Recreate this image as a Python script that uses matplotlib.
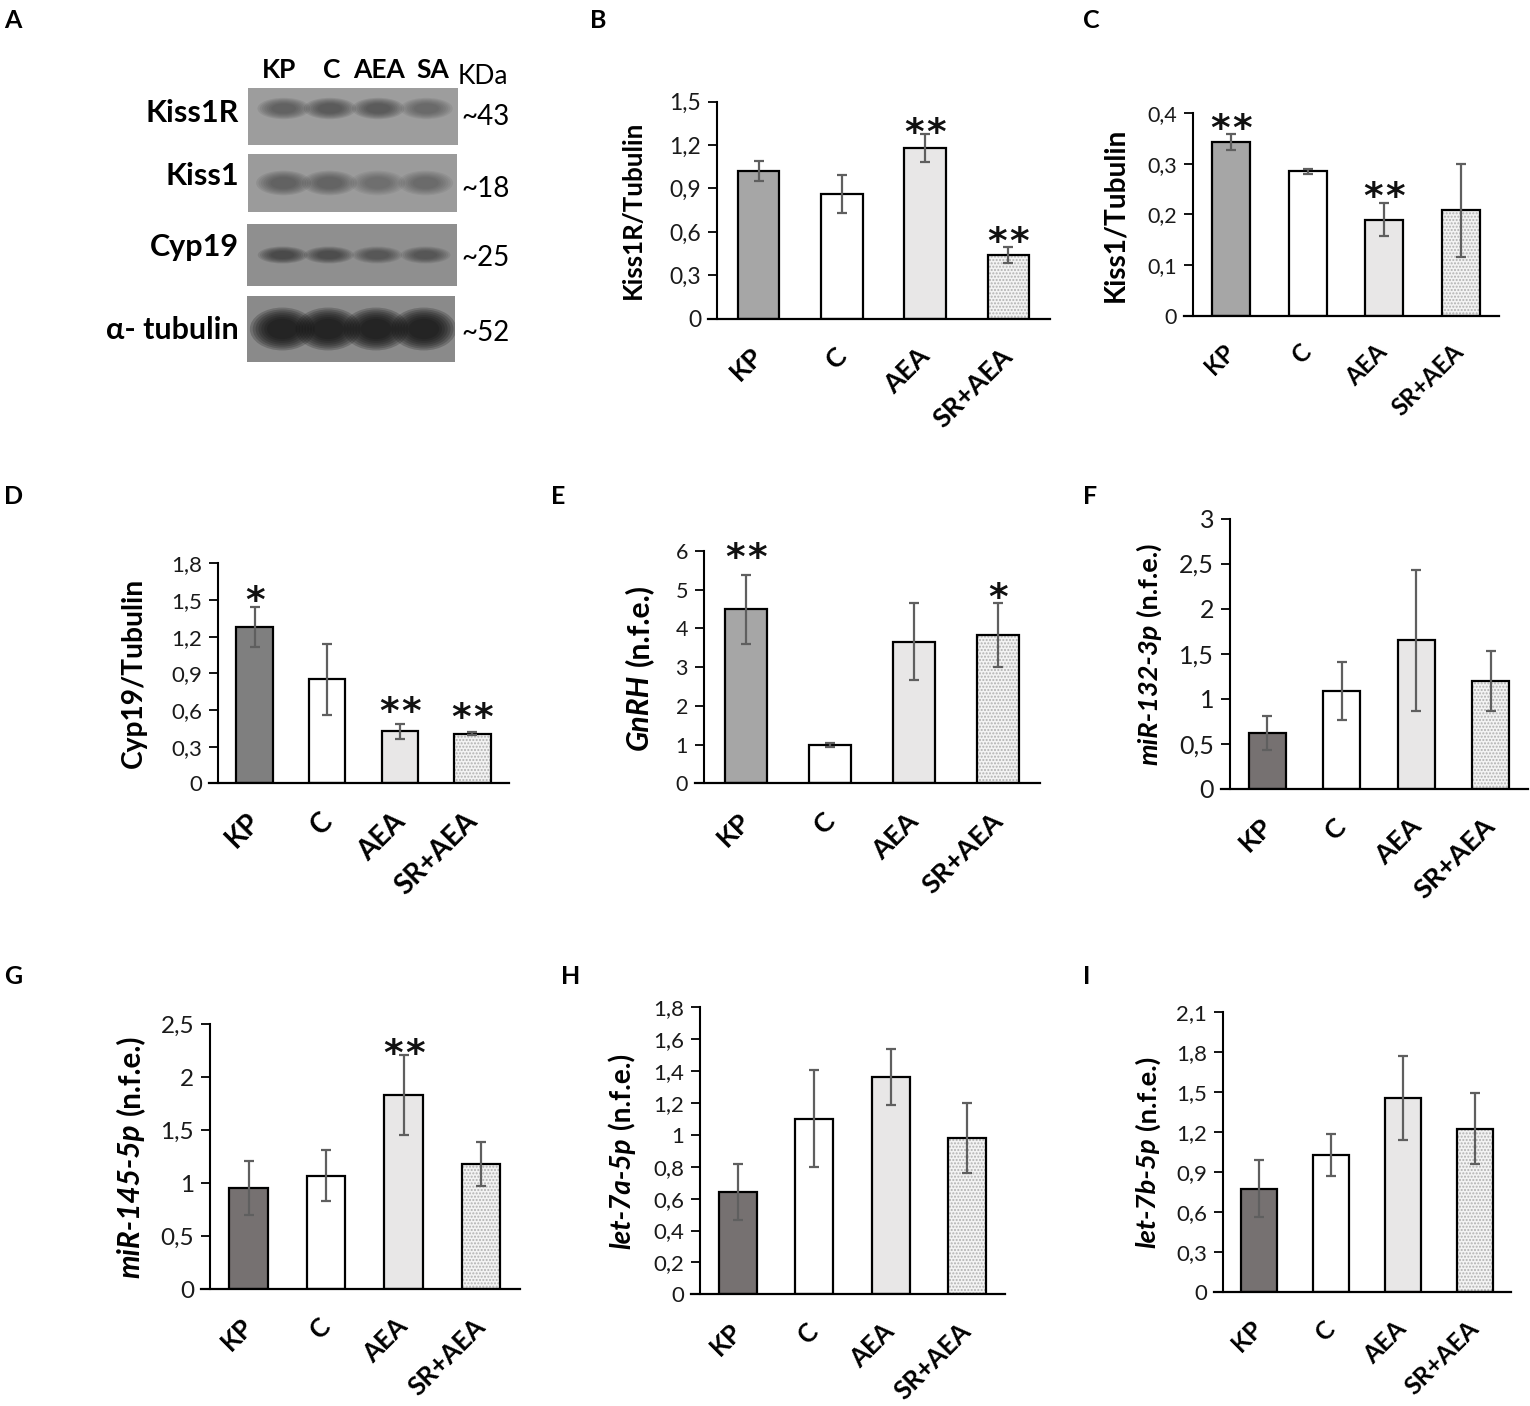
import matplotlib
matplotlib.use('Agg')
import matplotlib.pyplot as plt
from matplotlib.patches import Ellipse
from matplotlib.lines import Line2D
from matplotlib.transforms import IdentityTransform
import numpy as np

plt.rcParams['font.family'] = ['Lato', 'DejaVu Sans']

W, H = 1530, 1406
fig = plt.figure(figsize=(W / 100, H / 100), dpi=100)

# ---------------- data ----------------
groups = ['KP', 'C', 'AEA', 'SR+AEA']

kiss1r_mean = [1.02, 0.86, 1.18, 0.44]
kiss1r_err = [0.07, 0.13, 0.095, 0.055]
kiss1r_star = ['', '', '**', '**']
kiss1r_star_y = [0, 0, 1.36, 0.60]
kiss1r_ticks = [0, 0.3, 0.6, 0.9, 1.2, 1.5]
kiss1r_ticklabels = ['0', '0,3', '0,6', '0,9', '1,2', '1,5']

kiss1_mean = [0.344, 0.285, 0.19, 0.208]
kiss1_err = [0.016, 0.005, 0.032, 0.092]
kiss1_star = ['**', '', '**', '']
kiss1_star_y = [0.389, 0, 0.256, 0]
kiss1_ticks = [0, 0.1, 0.2, 0.3, 0.4]
kiss1_ticklabels = ['0', '0,1', '0,2', '0,3', '0,4']

cyp19_mean = [1.28, 0.85, 0.425, 0.406]
cyp19_err = [0.164, 0.29, 0.064, 0.01]
cyp19_star = ['*', '', '**', '**']
cyp19_star_y = [1.58, 0, 0.666, 0.624]
cyp19_ticks = [0, 0.3, 0.6, 0.9, 1.2, 1.5, 1.8]
cyp19_ticklabels = ['0', '0,3', '0,6', '0,9', '1,2', '1,5', '1,8']

gnrh_mean = [4.49, 0.99, 3.66, 3.83]
gnrh_err = [0.89, 0.05, 1.0, 0.83]
gnrh_star = ['**', '', '', '*']
gnrh_star_y = [6.1, 0, 0, 5.07]
gnrh_ticks = [0, 1, 2, 3, 4, 5, 6]
gnrh_ticklabels = ['0', '1', '2', '3', '4', '5', '6']

mir132_mean = [0.618, 1.084, 1.646, 1.198]
mir132_err = [0.185, 0.32, 0.785, 0.336]
mir132_ticks = [0, 0.5, 1, 1.5, 2, 2.5, 3]
mir132_ticklabels = ['0', '0,5', '1', '1,5', '2', '2,5', '3']

mir145_mean = [0.955, 1.068, 1.831, 1.181]
mir145_err = [0.257, 0.24, 0.38, 0.21]
mir145_star = ['', '', '**', '']
mir145_star_y = [0, 0, 2.32, 0]
mir145_ticks = [0, 0.5, 1, 1.5, 2, 2.5]
mir145_ticklabels = ['0', '0,5', '1', '1,5', '2', '2,5']

let7a_mean = [0.642, 1.102, 1.363, 0.978]
let7a_err = [0.173, 0.306, 0.173, 0.22]
let7a_ticks = [0, 0.2, 0.4, 0.6, 0.8, 1, 1.2, 1.4, 1.6, 1.8]
let7a_ticklabels = ['0', '0,2', '0,4', '0,6', '0,8', '1', '1,2', '1,4', '1,6', '1,8']

let7b_mean = [0.776, 1.028, 1.452, 1.225]
let7b_err = [0.213, 0.16, 0.314, 0.264]
let7b_ticks = [0, 0.3, 0.6, 0.9, 1.2, 1.5, 1.8, 2.1]
let7b_ticklabels = ['0', '0,3', '0,6', '0,9', '1,2', '1,5', '1,8', '2,1']

# western blot (panel A)
blot_lanes = ['KP', 'C', 'AEA', 'SA']
blot_rows = ['Kiss1R', 'Kiss1', 'Cyp19', 'α- tubulin']
blot_kda = ['~43', '~18', '~25', '~52']
band_darkness = [[0.55, 0.65, 0.65, 0.42],
                 [0.55, 0.52, 0.38, 0.42],
                 [0.70, 0.62, 0.48, 0.50],
                 [1.00, 1.00, 1.00, 1.00]]

# ---------------- style ----------------
kp_light = '#a6a6a6'
kp_mid = '#7f7f7f'
kp_dark = '#767171'
c_color = '#ffffff'
aea_color = '#e8e7e7'
sr_color = '#f3f3f3'
err_color = '#5f5f5f'


def px_axes(l, r, t, b):
    return fig.add_axes([l / W, 1 - b / H, (r - l) / W, (b - t) / H])


def text_len(s, fs, weight='bold', style='normal'):
    renderer = fig.canvas.get_renderer()
    t = fig.text(0, 0, s, fontsize=fs, fontweight=weight, fontstyle=style)
    w = t.get_window_extent(renderer).width
    t.remove()
    return w


def mixed_ylabel(ax, parts, offset_px, target_len):
    renderer = fig.canvas.get_renderer()
    base = 10.0
    L0 = sum(text_len(s, base, style=st) for s, st in parts) + base * 0.28 / 72 * 100 * (len(parts) - 1)
    fs = base * target_len / L0
    bb = ax.get_position()
    x_base = bb.x0 * W - offset_px
    yc = (bb.y0 + bb.y1) / 2 * H
    texts, lens = [], []
    for s, style in parts:
        t = fig.text(0, 0, s, rotation=90, rotation_mode='anchor', ha='left',
                     va='baseline', fontsize=fs, fontweight='bold', fontstyle=style,
                     transform=IdentityTransform())
        lens.append(t.get_window_extent(renderer).height)
        texts.append(t)
    gap = fs * 0.28 / 72 * 100
    total = sum(lens) + gap * (len(parts) - 1)
    y = yc - total / 2
    for t, L in zip(texts, lens):
        t.set_position((x_base, y))
        y += L + gap


def bar_panel(geom, means, errs, kp_color, ticks, ticklabels, tick_fs,
              ylabel_parts, label_off, label_len, xlab_len,
              stars=None, star_y=None):
    l, r, t, b = geom
    ax = px_axes(l, r, t, b)
    x = np.arange(len(groups))
    colors = [kp_color, c_color, aea_color]
    ax.bar(x[:3], means[:3], width=0.5, color=colors, edgecolor='black',
           linewidth=1.6, zorder=2)
    # patterned last bar
    ax.bar(x[3], means[3], width=0.5, color=sr_color, edgecolor='#b0b0b0',
           hatch='.....', linewidth=0, zorder=2)
    ax.bar(x[3], means[3], width=0.5, fill=False, edgecolor='black',
           linewidth=1.6, zorder=3)
    ax.errorbar(x, means, yerr=errs, fmt='none', ecolor=err_color, elinewidth=1.6,
                capsize=3.8, capthick=1.6, zorder=4)
    ax.set_xlim(-0.5, 3.5)
    ax.set_ylim(0, ticks[-1])
    ax.set_yticks(ticks)
    ax.set_yticklabels(ticklabels, fontsize=tick_fs, color='#1a1a1a')
    ax.tick_params(axis='y', direction='out', length=6.5, width=1.3, pad=5.0)
    ax.tick_params(axis='x', length=0, labelbottom=False)
    for s in ['top', 'right', 'bottom']:
        ax.spines[s].set_visible(False)
    ax.spines['left'].set_linewidth(1.5)
    axw = r - l
    ax.add_line(Line2D([-9.5 / axw, 1], [0, 0], transform=ax.transAxes,
                       color='black', lw=1.6, clip_on=False, zorder=5))
    ax.patch.set_alpha(0)
    # x labels (size chosen so that 'SR+AEA' has the measured length)
    xfs = 10.0 * xlab_len / text_len('SR+AEA', 10.0)
    dx = 2.16 + 0.507 * xfs - 7.5
    dy = -(22.3 + 0.507 * xfs) + 4.0
    for i, g in enumerate(groups):
        ax.annotate(g, xy=(i, 0), xycoords=('data', 'axes fraction'),
                    xytext=(dx, dy), textcoords='offset points',
                    rotation=45, rotation_mode='anchor', ha='right', va='baseline',
                    fontsize=xfs, fontweight='bold', annotation_clip=False)
    # stars
    if stars is not None:
        fs_star = 27
        for i, (s, sy) in enumerate(zip(stars, star_y)):
            n = len(s)
            if n == 0:
                continue
            offs = [0] if n == 1 else [-11, 11]
            for o in offs:
                ax.annotate('*', xy=(i, sy), xycoords='data',
                            xytext=(o * 0.72, -0.575 * fs_star), textcoords='offset points',
                            ha='center', va='baseline', fontsize=fs_star,
                            family='DejaVu Sans', fontweight='bold', color='#111111',
                            annotation_clip=False)
    mixed_ylabel(ax, ylabel_parts, label_off, label_len)
    return ax


nfe = ('(n.f.e.)', 'normal')
# B
bar_panel((717, 1050, 101.7, 318.7), kiss1r_mean, kiss1r_err, kp_light,
          kiss1r_ticks, kiss1r_ticklabels, 16.5, [('Kiss1R/Tubulin', 'normal')], 76, 178, 100,
          kiss1r_star, kiss1r_star_y)
# C
bar_panel((1193, 1499, 113.3, 315.7), kiss1_mean, kiss1_err, kp_light,
          kiss1_ticks, kiss1_ticklabels, 15.5, [('Kiss1/Tubulin', 'normal')], 70, 175, 90,
          kiss1_star, kiss1_star_y)
# D
bar_panel((218.3, 508.7, 563.3, 783.3), cyp19_mean, cyp19_err, kp_mid,
          cyp19_ticks, cyp19_ticklabels, 16, [('Cyp19/Tubulin', 'normal')], 76, 190, 104,
          cyp19_star, cyp19_star_y)
# E
bar_panel((704, 1040, 551, 783.3), gnrh_mean, gnrh_err, kp_light,
          gnrh_ticks, gnrh_ticklabels, 15.5, [('GnRH', 'italic'), nfe], 56, 167, 102,
          gnrh_star, gnrh_star_y)
# F
bar_panel((1230, 1528, 518.5, 788.7), mir132_mean, mir132_err, kp_dark,
          mir132_ticks, mir132_ticklabels, 18, [('miR-132-3p', 'italic'), nfe], 73, 223, 102)
# G
bar_panel((210, 519.7, 1024, 1289.3), mir145_mean, mir145_err, kp_dark,
          mir145_ticks, mir145_ticklabels, 17.5, [('miR-145-5p', 'italic'), nfe], 71, 243, 97,
          mir145_star, mir145_star_y)
# H
bar_panel((700, 1005, 1007.3, 1294.3), let7a_mean, let7a_err, kp_dark,
          let7a_ticks, let7a_ticklabels, 16, [('let-7a-5p', 'italic'), nfe], 70, 195, 96)
# I
bar_panel((1223.3, 1511, 1011.7, 1292.3), let7b_mean, let7b_err, kp_dark,
          let7b_ticks, let7b_ticklabels, 16, [('let-7b-5p', 'italic'), nfe], 68, 193, 93)

# ---------------- panel A: western blot ----------------
blot_boxes = [(248, 458, 88, 145), (248, 457, 154, 212), (247, 457, 224, 286),
              (247, 455, 296, 362)]
blot_bg = ['#9d9d9d', '#9b9b9b', '#8f8f8f', '#8a8a8a']
band_color = ['#3d3d3d', '#404040', '#2e2e2e', '#111111']
band_y = [0.64, 0.50, 0.50, 0.50]
band_h = [0.30, 0.34, 0.22, 0.52]
band_w = [0.20, 0.21, 0.19, 0.25]
lane_x = [0.17, 0.39, 0.62, 0.85]
row_label_y = [113, 176, 247, 330]
kda_y = [117, 189, 258, 333]
for r, (l, rr, t, b) in enumerate(blot_boxes):
    bax = px_axes(l, rr, t, b)
    bax.set_xlim(0, 1)
    bax.set_ylim(0, 1)
    bax.set_facecolor(blot_bg[r])
    bax.set_xticks([])
    bax.set_yticks([])
    for s in bax.spines.values():
        s.set_visible(False)
    for j, d in enumerate(band_darkness[r]):
        for k in range(7):
            sc = 1.25 - k * 0.11
            bax.add_patch(Ellipse((lane_x[j], band_y[r]), band_w[r] * sc,
                                  band_h[r] * sc, color=band_color[r],
                                  alpha=min(1, d * 0.22), lw=0))
    fig.text(239 / W, 1 - row_label_y[r] / H, blot_rows[r], ha='right', va='center',
             fontsize=22, fontweight='bold')
    fig.text(461 / W, 1 - kda_y[r] / H, blot_kda[r], ha='left', va='center',
             fontsize=20)

lane_label_x = [279, 332, 379, 433]
for lx, lab in zip(lane_label_x, blot_lanes):
    fig.text(lx / W, 1 - 70 / H, lab, ha='center', va='center', fontsize=19,
             fontweight='bold')
fig.text(483 / W, 1 - 77 / H, 'KDa', ha='center', va='center', fontsize=19)

# panel letters
letters = ['A', 'B', 'C', 'D', 'E', 'F', 'G', 'H', 'I']
letter_pos = [(4, 20), (590, 20), (1083, 20), (4, 497), (551, 497), (1083, 497),
              (4, 977), (561, 977), (1083, 977)]
for lt, (lx, ly) in zip(letters, letter_pos):
    fig.text(lx / W, 1 - ly / H, lt, ha='left', va='center', fontsize=18,
             fontweight='bold')

fig.savefig('out.png', dpi=100)
